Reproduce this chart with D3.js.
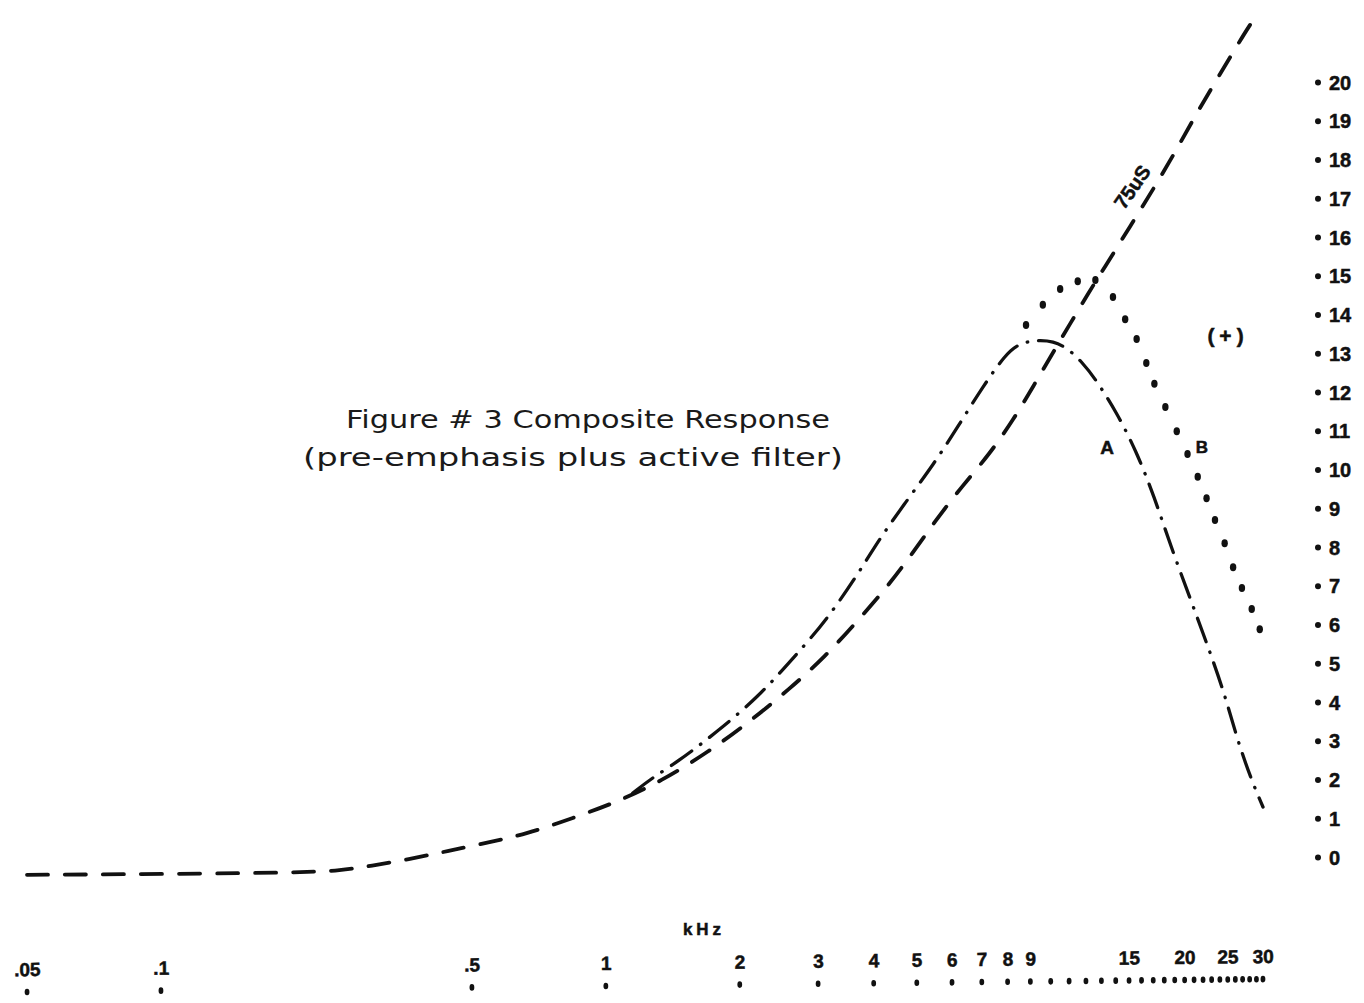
<!DOCTYPE html>
<html>
<head>
<meta charset="utf-8">
<script src="https://cdn.jsdelivr.net/npm/d3@7"></script>
<style>
  html, body { margin: 0; padding: 0; background: #fff; }
  svg { display: block; }
  .tick-label { font-family: "Liberation Sans", Arial, sans-serif; font-weight: bold; fill: #111; stroke: #111; stroke-width: 0.5px; }
</style>
</head>
<body>
<div id="chart"></div>
<script>
"use strict";
// axis ticks
const yTicks = [0, 1, 2, 3, 4, 5, 6, 7, 8, 9, 10, 11, 12, 13, 14, 15, 16, 17, 18, 19, 20];
const xTickValues = [0.05, 0.1, 0.5, 1, 2, 3, 4, 5, 6, 7, 8, 9, 15, 20, 25, 30];
const xTickLabels = [".05", ".1", ".5", "1", "2", "3", "4", "5", "6", "7", "8", "9", "15", "20", "25", "30"];
const xDotValues = [0.05, 0.1, 0.5, 1, 2, 3, 4, 5, 6, 7, 8, 9, 10, 11, 12, 13, 14, 15, 16, 17, 18, 19, 20,
    21, 22, 23, 24, 25, 26, 27, 28, 29, 30];

// 75uS pre-emphasis (dashed)
const freq75 = [0.05, 0.1, 0.21, 0.253, 0.296, 0.364, 0.44, 0.537, 0.663, 0.845, 1.06, 1.33, 1.7, 2.11, 2.59,
    3.11, 3.65, 4.27, 4.9, 5.5, 6.29, 7.29, 8.26, 9.16, 10.1, 12.3, 13.5, 15.2, 17.1, 19.1, 21.2, 23.3, 25.7,
    28.1, 29.1];
const gain75 = [-0.46, -0.44, -0.4, -0.35, -0.23, -0.05, 0.15, 0.36, 0.59, 1.01, 1.42, 1.95, 2.71, 3.5, 4.34,
    5.17, 6.05, 6.94, 7.85, 8.67, 9.54, 10.4, 11.3, 12.17, 13.0, 14.66, 15.38, 16.34, 17.28, 18.22, 19.16, 19.95,
    20.77, 21.5, 21.73];

// composite A (dash-dot)
const freqA = [1.15, 1.27, 1.44, 1.78, 2.21, 2.64, 3.17, 3.85, 4.08, 4.72, 5.46, 6.18, 7.03, 7.92, 8.51, 9.22,
    10.15, 10.96, 11.76, 12.6, 14.09, 15.6, 17.1, 18.6, 20.6, 22.5, 24.6, 26.2, 28.2, 30];
const gainA = [1.65, 2.04, 2.43, 3.23, 4.15, 5.14, 6.17, 7.64, 8.13, 9.16, 10.14, 11.1, 12.13, 12.98, 13.25,
    13.34, 13.32, 13.11, 12.77, 12.34, 11.46, 10.45, 9.29, 8.03, 6.66, 5.47, 4.21, 3.07, 2.01, 1.29];

// composite B (dotted)
const freqB = [8.8, 9.6, 10.5, 11.5, 12.6, 13.8, 14.7, 15.6, 16.4, 17.1, 18.1, 19.2, 20.3, 21.4, 22.4, 23.4,
    24.6, 25.7, 26.9, 28.3, 29.5];
const gainB = [13.73, 14.25, 14.66, 14.86, 14.89, 14.45, 13.88, 13.37, 12.75, 12.21, 11.61, 10.99, 10.4, 9.81,
    9.26, 8.7, 8.1, 7.48, 6.94, 6.4, 5.88];

const svgWidth = 1364;
const svgHeight = 1003;
const ink = "#111";

const svg = d3.select("#chart")
    .append("svg")
    .attr("width", svgWidth)
    .attr("height", svgHeight);

const xScale = d3.scaleLog()
    .domain([0.05, 30])
    .range([27, 1263]);
const yScale = d3.scaleLinear()
    .domain([0, 20])
    .range([857, 82]);

const line = d3.line()
    .x(d => xScale(d[0]))
    .y(d => yScale(d[1]))
    .curve(d3.curveBasis);

// dashed 75uS curve
svg.append("path")
    .datum(d3.zip(freq75, gain75))
    .attr("d", line)
    .attr("fill", "none")
    .attr("stroke", ink)
    .attr("stroke-width", 3.8)
    .attr("stroke-linecap", "round")
    .attr("stroke-dasharray", "21,17");

// dash-dot curve A
svg.append("path")
    .datum(d3.zip(freqA, gainA))
    .attr("d", line)
    .attr("fill", "none")
    .attr("stroke", ink)
    .attr("stroke-width", 3.3)
    .attr("stroke-linecap", "round")
    .attr("stroke-dasharray", "25,11,0.5,11");

// dotted curve B
svg.append("g")
    .selectAll("ellipse")
    .data(d3.zip(freqB, gainB))
    .enter()
    .append("ellipse")
    .attr("cx", d => xScale(d[0]))
    .attr("cy", d => yScale(d[1]))
    .attr("rx", 3.2)
    .attr("ry", 4)
    .attr("fill", ink);

// y axis (right side, dots + labels)
const yAxis = d3.axisRight(yScale)
    .tickValues(yTicks)
    .tickSize(0)
    .tickPadding(11)
    .tickFormat(d3.format("d"));
svg.append("g")
    .attr("id", "y-axis")
    .attr("transform", "translate(1318, 0)")
    .call(yAxis)
    .call(g => g.select(".domain").remove())
    .call(g => g.selectAll(".tick text")
        .attr("class", "tick-label")
        .style("font-size", "20px")
        .attr("dy", "0.36em"))
    .call(g => g.selectAll(".tick")
        .append("circle")
        .attr("r", 3)
        .attr("fill", ink));

// x axis (bottom, labels above dots), slightly skewed like the scan
const xAxisG = svg.append("g")
    .attr("id", "x-axis")
    .attr("transform", "rotate(-0.6, 606, 985)");
const xAxis = d3.axisTop(xScale)
    .tickValues(xTickValues)
    .tickSize(0)
    .tickPadding(16)
    .tickFormat((d, i) => xTickLabels[i]);
xAxisG.append("g")
    .attr("transform", "translate(0, 986)")
    .call(xAxis)
    .call(g => g.select(".domain").remove())
    .call(g => g.selectAll(".tick text")
        .attr("class", "tick-label")
        .style("font-size", "19px"));
xAxisG.append("g")
    .selectAll("ellipse")
    .data(xDotValues)
    .enter()
    .append("ellipse")
    .attr("cx", d => xScale(d))
    .attr("cy", 986)
    .attr("rx", 2.4)
    .attr("ry", 3.3)
    .attr("fill", ink);

svg.append("text")
    .attr("class", "tick-label")
    .attr("x", 704)
    .attr("y", 935)
    .attr("text-anchor", "middle")
    .style("font-size", "17px")
    .style("letter-spacing", "4px")
    .text("kHz");

// curve labels
const labels = [
    { text: "A", x: 1107, y: 454, size: 19, spacing: 0 },
    { text: "B", x: 1202, y: 453, size: 17, spacing: 0 },
    { text: "(+)", x: 1228, y: 343, size: 21, spacing: 5 }
];
svg.append("g")
    .selectAll("text")
    .data(labels)
    .enter()
    .append("text")
    .attr("class", "tick-label")
    .attr("x", d => d.x)
    .attr("y", d => d.y)
    .attr("text-anchor", "middle")
    .style("font-size", d => `${d.size}px`)
    .style("letter-spacing", d => `${d.spacing}px`)
    .text(d => d.text);

svg.append("text")
    .attr("class", "tick-label")
    .attr("transform", "translate(1138, 191) rotate(-55)")
    .attr("text-anchor", "middle")
    .style("font-size", "20px")
    .text("75uS");

// title
const title = svg.append("g")
    .style("font-family", "'DejaVu Sans', sans-serif")
    .style("font-size", "25px")
    .attr("fill", "#1a1a1a");
title.append("text")
    .attr("x", 346)
    .attr("y", 428)
    .attr("textLength", 484)
    .attr("lengthAdjust", "spacingAndGlyphs")
    .text("Figure # 3 Composite Response");
title.append("text")
    .attr("x", 303)
    .attr("y", 466)
    .attr("textLength", 540)
    .attr("lengthAdjust", "spacingAndGlyphs")
    .text("(pre-emphasis plus active filter)");
</script>
</body>
</html>
